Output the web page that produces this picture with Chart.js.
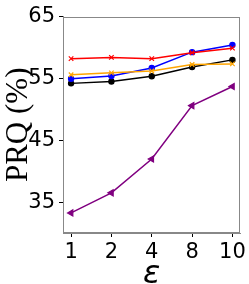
<!DOCTYPE html>
<html><head><meta charset="utf-8">
<script src="https://cdn.jsdelivr.net/npm/chart.js@4/dist/chart.umd.min.js"></script>
<style>html,body{margin:0;padding:0;background:#fff;}canvas{display:block;}</style>
</head><body>
<canvas id="c" width="249" height="284"></canvas>
<script>
const categories = ['1', '2', '4', '8', '10'];
const redSeries    = [58.2, 58.4, 58.2, 59.15, 59.9];
const orangeSeries = [55.6, 55.9, 56.2, 57.25, 57.35];
const blueSeries   = [54.95, 55.4, 56.7, 59.25, 60.4];
const blackSeries  = [54.2, 54.5, 55.35, 56.85, 58.0];
const purpleSeries = [33.25, 36.5, 41.97, 50.6, 53.7];
const yTickValues = [35, 45, 55, 65];

const pts = arr => arr.map((v, i) => ({x: i, y: v}));
function ds(data, color, style, radius, rot) {
  return {data: pts(data), borderColor: color, backgroundColor: color, borderWidth: 1.5,
    pointStyle: style, pointRadius: radius, pointHoverRadius: radius, pointBorderWidth: 1.2,
    pointRotation: rot || 0, tension: 0, fill: false};
}
const frame = {
  id: 'frame',
  afterDraw(chart) {
    const a = chart.chartArea, ctx = chart.ctx;
    ctx.save(); ctx.strokeStyle = '#888'; ctx.lineWidth = 1;
    ctx.strokeRect(Math.round(a.left) + 0.5, Math.round(a.top) + 0.5,
                   Math.round(a.right - a.left) - 1, Math.round(a.bottom - a.top) - 1);
    ctx.restore();
  }
};
new Chart(document.getElementById('c'), {
  type: 'line',
  data: {datasets: [
    ds(redSeries, '#ff0000', 'crossRot', 3.2),
    ds(orangeSeries, '#ffa500', 'crossRot', 3.2),
    ds(blueSeries, '#0000ff', 'circle', 2.6),
    ds(blackSeries, '#000000', 'circle', 2.6),
    ds(purpleSeries, '#800080', 'triangle', 3.5, -90)
  ]},
  options: {
    responsive: false, animation: false, devicePixelRatio: 1,
    layout: {padding: {top: 7, right: 4, left: 0, bottom: 0}},
    plugins: {legend: {display: false}, tooltip: {enabled: false}},
    scales: {
      x: {type: 'linear', min: -0.2, max: 4.2,
        afterBuildTicks: s => { s.ticks = categories.map((c, i) => ({value: i})); },
        afterFit: s => { s.height = 51; },
        ticks: {callback: (v) => categories[v], color: '#000', padding: 3, maxRotation: 0,
          font: {family: 'DejaVu Sans', size: 21}},
        grid: {drawOnChartArea: false, drawTicks: true, tickLength: 4, color: '#000'},
        border: {color: '#888'},
        title: {display: true, text: 'ε', color: '#000', padding: 0,
          font: {family: 'DejaVu Sans', size: 32, style: 'italic', lineHeight: 0.6}}
      },
      y: {min: 30, max: 65,
        afterBuildTicks: s => { s.ticks = yTickValues.map(v => ({value: v})); },
        afterFit: s => { s.width = 63; },
        ticks: {color: '#000', padding: 4, font: {family: 'DejaVu Sans', size: 21}},
        grid: {drawOnChartArea: false, drawTicks: true, tickLength: 4, color: '#000'},
        border: {color: '#888'},
        title: {display: true, text: 'PRQ (%)', color: '#000', padding: 0,
          font: {family: 'Liberation Serif', size: 31}}
      }
    }
  },
  plugins: [frame]
});
</script>
</body></html>
